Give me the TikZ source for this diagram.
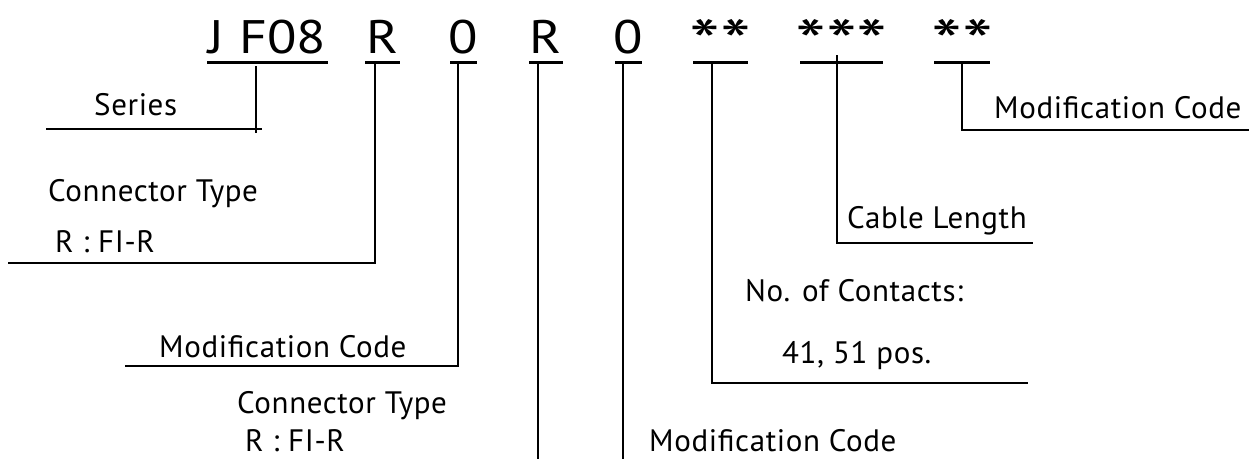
\documentclass[tikz,border=0pt]{standalone}
\usepackage{fontspec}
\setmainfont{PT Sans}
\newcommand{\codewide}[1]{\scalebox{1.15}[1]{#1}}
\newcommand{\starwide}[1]{\scalebox{1.4}[1]{#1}}
\begin{document}
\begin{tikzpicture}[x=1pt,y=-1pt,
  lbl/.style={inner sep=0pt, anchor=base west, font=\fontsize{31}{31}\selectfont\addfontfeatures{LetterSpace=2}},
  code/.style={inner sep=0pt, anchor=base, font=\fontsize{47}{47}\selectfont},
  star/.style={inner sep=0pt, anchor=base, font=\fontsize{63}{63}\selectfont},
  ul/.style={line width=3pt},
  lead/.style={line width=2.8pt},
  thinlead/.style={line width=1.5pt}]
\useasboundingbox (0,0) rectangle (1250,459);

% code segments
\node[code] (s1) at (267.5,53) {\codewide{J F08}};
\node[code] (s2) at (382.5,53) {\codewide{R}};
\node[code] (s3) at (463.5,53) {\codewide{0}};
\node[code] (s4) at (546,53) {\codewide{R}};
\node[code] (s5) at (628.5,53) {\codewide{0}};
\node[star] (s6) at (720.5,64) {\starwide{**}};
\node[star] (s7) at (841.5,64) {\starwide{***}};
\node[star] (s8) at (962,64) {\starwide{**}};

% underlines
\coordinate (u1a) at (207,62.5); \coordinate (u1b) at (328,62.5);
\coordinate (u2a) at (365,62.5); \coordinate (u2b) at (400,62.5);
\coordinate (u3a) at (450,62.5); \coordinate (u3b) at (477,62.5);
\coordinate (u4a) at (529,62.5); \coordinate (u4b) at (563,62.5);
\coordinate (u5a) at (615,62.5); \coordinate (u5b) at (642,62.5);
\coordinate (u6a) at (693,62.5); \coordinate (u6b) at (748,62.5);
\coordinate (u7a) at (800,62.5); \coordinate (u7b) at (883,62.5);
\coordinate (u8a) at (934,62.5); \coordinate (u8b) at (990,62.5);
\foreach \i in {1,...,8} {\draw[ul] (u\i a) -- (u\i b);}

% labels
\node[lbl] (l1) at (94,115) {Series};
\node[lbl] (l2) at (48,201) {Connector Type};
\node[lbl] (l2b) at (55,252) {R : FI-R};
\node[lbl] (l3) at (159,357) {Modification Code};
\node[lbl] (l4) at (237,413) {Connector Type};
\node[lbl] (l4b) at (245,451) {R : FI-R};
\node[lbl] (l5) at (649,451) {Modification Code};
\node[lbl] (l6) at (745,301) {No. of Contacts:};
\node[lbl] (l6b) at (782,363) {41, 51 pos.};
\node[lbl] (l7) at (847,228) {Cable Length};
\node[lbl] (l8) at (994,118) {Modification Code};

% leader coordinates
\coordinate (t1) at (256,66);  \coordinate (b1) at (256,133);
\coordinate (h1a) at (46,129); \coordinate (h1b) at (262,129);
\coordinate (t2) at (375,62.5); \coordinate (h2a) at (8,263);
\coordinate (t3) at (458,62.5); \coordinate (h3a) at (125,366);
\coordinate (t4) at (538,62.5); \coordinate (b4) at (538,459);
\coordinate (t5) at (623,62.5); \coordinate (b5) at (623,459);
\coordinate (t6) at (712,62.5); \coordinate (h6b) at (1028,383);
\coordinate (t7) at (837,55);   \coordinate (h7b) at (1033,243);
\coordinate (t8) at (962,62.5); \coordinate (h8b) at (1249,130);

% leaders
\draw[lead] (t1) -- (b1);
\draw[lead] (h1a) -- (h1b);
\draw[lead] (t2) |- (h2a);
\draw[lead] (t3) |- (h3a);
\draw[lead] (t4) -- (b4);
\draw[thinlead] (t5) -- (b5);
\draw[thinlead] (t6) |- (h6b);
\draw[lead] (t7) |- (h7b);
\draw[lead] (t8) |- (h8b);
\end{tikzpicture}
\end{document}
